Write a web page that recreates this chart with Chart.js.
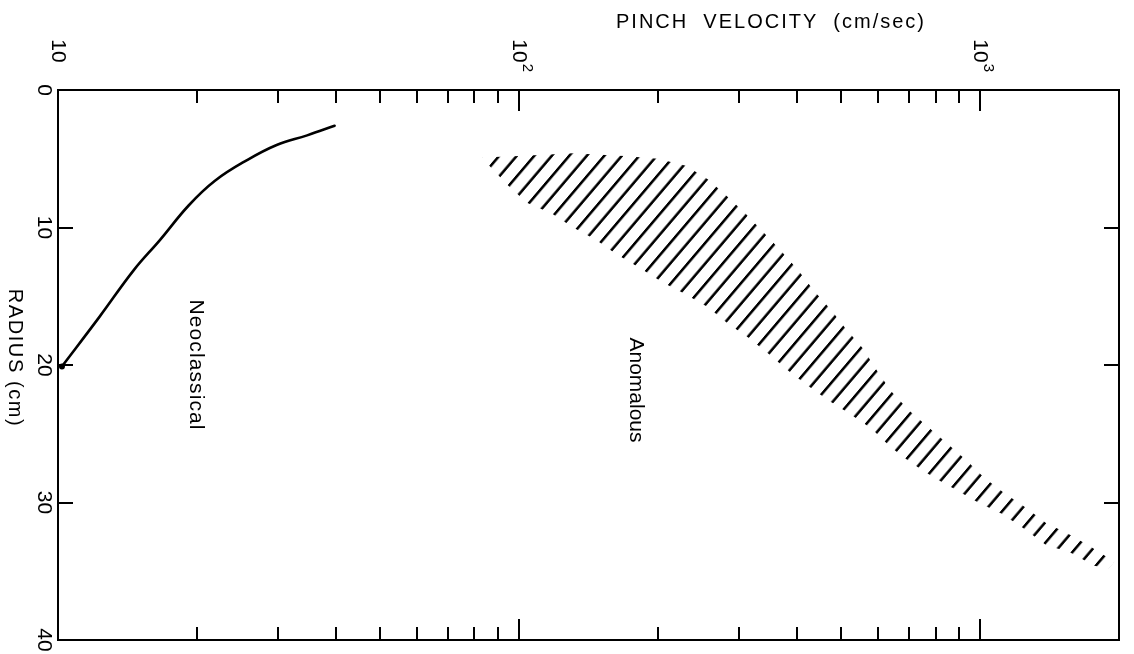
<!DOCTYPE html>
<html><head><meta charset="utf-8">
<script src="https://cdn.jsdelivr.net/npm/chart.js@4/dist/chart.umd.min.js"></script>
<style>html,body{margin:0;padding:0;background:#fff;}canvas{display:block;}</style>
</head><body>
<canvas id="c" width="1134" height="654"></canvas>
<script>
// ---- data ----
const velocityMinorTicks = [20,30,40,50,60,70,80,90,200,300,400,500,600,700,800,900];
const velocityMajorTicks = [100,1000];
const velocityLabelValues = [10,100,1000];
const velocityLabelExps = ['', '2', '3'];
const radiusTicks = [10,20,30];
const radiusLabels = [0,10,20,30,40];

const neoVelocity = [39.8, 34.7, 29.8, 25.7, 21.9, 19.2, 16.65, 14.6, 12.3, 10.2];
const neoRadius   = [2.6, 3.3, 4.0, 5.1, 6.6, 8.4, 10.9, 13.1, 16.5, 20.1];

const anomUpperVelocity = [83, 100, 131, 169, 200, 230, 257, 284, 310, 338, 370, 403, 436, 475, 512, 557, 589, 641, 701, 771, 848, 932, 1020, 1127, 1259, 1391, 1537, 1716, 1954];
const anomUpperRadius   = [4.9, 4.8, 4.6, 4.8, 5.0, 5.5, 6.5, 7.8, 9.0, 10.3, 11.7, 13.1, 14.6, 16.0, 17.4, 18.8, 20.1, 21.9, 23.3, 24.5, 25.7, 26.9, 28.2, 29.3, 30.4, 31.5, 32.2, 33.1, 34.3];
const anomLowerVelocity = [86.7, 94.4, 104, 118, 131, 147, 162, 182, 205, 228, 257, 284, 314, 348, 383, 423, 470, 519, 580, 641, 708, 795, 878, 990, 1111, 1246, 1391, 1561, 1768, 1897];
const anomLowerRadius   = [5.6, 6.9, 8.2, 9.0, 10.0, 10.9, 11.9, 12.9, 14.0, 14.8, 15.8, 17.0, 18.0, 19.2, 20.4, 21.5, 22.6, 23.5, 24.6, 26.0, 27.1, 28.2, 29.0, 30.0, 30.8, 31.9, 33.1, 33.6, 34.6, 34.8];

const xTitle = 'PINCH  VELOCITY  (cm/sec)';
const yTitle = 'RADIUS (cm)';
const neoLabel = 'Neoclassical';
const anomLabel = 'Anomalous';

// ---- build points ----
const neoPoints = neoVelocity.map((v,i)=>({x:v, y:neoRadius[i]}));
const bandPoints = anomUpperVelocity.map((v,i)=>({x:v, y:anomUpperRadius[i]}))
  .concat(anomLowerVelocity.map((v,i)=>({x:v, y:anomLowerRadius[i]})).reverse());

function makeHatch(){
  const t = document.createElement('canvas');
  t.width = 35; t.height = 4;
  const g = t.getContext('2d');
  g.fillStyle = '#000';
  g.fillRect(0,0,3.4,4); g.fillRect(17.5,0,3.4,4);
  const p = g.createPattern(t,'repeat');
  p.setTransform(new DOMMatrix([1,0,-0.85,1,0,0]));
  return p;
}

const FONT = '"Liberation Sans", Arial, sans-serif';

function rotText(ctx, text, cx, cy, size, len){
  ctx.save();
  ctx.translate(cx, cy);
  ctx.rotate(Math.PI/2);
  ctx.font = size + 'px ' + FONT;
  ctx.letterSpacing = '0px';
  if (len){
    const w = ctx.measureText(text).width;
    const sp = Math.max(0, (len - w) / Math.max(1, text.length - 1));
    ctx.letterSpacing = sp.toFixed(2) + 'px';
  }
  ctx.textAlign = 'center';
  ctx.textBaseline = 'middle';
  ctx.fillStyle = '#000';
  ctx.fillText(text, 0, 0);
  ctx.restore();
}

const decor = {
  id: 'decor',
  afterDraw(chart){
    const ctx = chart.ctx, a = chart.chartArea;
    const xs = chart.scales.x, ys = chart.scales.y;
    ctx.save();
    ctx.strokeStyle = '#000';
    ctx.lineWidth = 2;
    ctx.lineCap = 'butt';
    const seg = (x1,y1,x2,y2)=>{ctx.beginPath();ctx.moveTo(x1,y1);ctx.lineTo(x2,y2);ctx.stroke();};
    velocityMinorTicks.forEach(v=>{
      const px = Math.round(xs.getPixelForValue(v));
      seg(px, a.top, px, a.top+13);
      seg(px, a.bottom, px, a.bottom-13);
    });
    velocityMajorTicks.forEach(v=>{
      const px = Math.round(xs.getPixelForValue(v));
      seg(px, a.top, px, a.top+21);
      seg(px, a.bottom, px, a.bottom-21);
    });
    radiusTicks.forEach(r=>{
      const py = Math.round(ys.getPixelForValue(r));
      seg(a.left, py, a.left+15, py);
      seg(a.right, py, a.right-15, py);
    });
    radiusLabels.forEach(r=>{
      rotText(ctx, String(r), a.left-14, ys.getPixelForValue(r), 21);
    });
    velocityLabelValues.forEach((v,i)=>{
      const px = xs.getPixelForValue(v);
      ctx.save();
      ctx.translate(px, 51);
      ctx.rotate(Math.PI/2);
      ctx.fillStyle = '#000';
      ctx.font = '21px ' + FONT;
      ctx.textAlign = 'center';
      ctx.textBaseline = 'middle';
      ctx.fillText('10', 0, 0);
      const w = ctx.measureText('10').width;
      if (velocityLabelExps[i]){
        ctx.font = '15px ' + FONT;
        ctx.textAlign = 'left';
        ctx.fillText(velocityLabelExps[i], w/2 + 1, -8);
      }
      ctx.restore();
    });
    ctx.font = '20px ' + FONT;
    ctx.fillStyle = '#000';
    const tw = ctx.measureText(xTitle).width;
    ctx.letterSpacing = Math.max(0,(308 - tw)/(xTitle.length-1)).toFixed(2) + 'px';
    ctx.textAlign = 'center';
    ctx.textBaseline = 'middle';
    ctx.fillText(xTitle, 771, 22);
    ctx.letterSpacing = '0px';
    rotText(ctx, yTitle, 15, 358, 20, 137);
    rotText(ctx, neoLabel, 196, 365, 21, 130);
    rotText(ctx, anomLabel, 636, 390, 21, 105);
    ctx.restore();
  }
};

const axisBase = {
  ticks:{display:false},
  grid:{display:false, drawTicks:false},
  border:{display:true, color:'#000', width:2}
};

new Chart(document.getElementById('c').getContext('2d'), {
  type: 'line',
  data: {
    datasets: [
      {
        label: anomLabel,
        data: bandPoints,
        xAxisID: 'x', yAxisID: 'y',
        fill: 'shape',
        backgroundColor: makeHatch(),
        borderWidth: 0,
        borderColor: 'rgba(0,0,0,0)',
        pointRadius: 0,
        tension: 0
      },
      {
        label: neoLabel,
        data: neoPoints,
        xAxisID: 'x', yAxisID: 'y',
        fill: false,
        borderColor: '#000',
        borderWidth: 2.6,
        borderCapStyle: 'round',
        pointRadius: c => c.dataIndex === neoPoints.length-1 ? 3 : 0,
        pointBackgroundColor: '#000',
        pointBorderWidth: 0,
        tension: 0.4
      }
    ]
  },
  options: {
    responsive: false,
    animation: false,
    devicePixelRatio: 1,
    layout: {padding: {left: 58, top: 90, right: 15, bottom: 14}},
    plugins: {legend: {display: false}, tooltip: {enabled: false}, title: {display: false}},
    scales: {
      x: Object.assign({type:'logarithmic', position:'top', min:10, max:2000}, JSON.parse(JSON.stringify(axisBase))),
      x2: Object.assign({type:'logarithmic', position:'bottom', min:10, max:2000}, JSON.parse(JSON.stringify(axisBase))),
      y: Object.assign({type:'linear', position:'left', min:0, max:40, reverse:true}, JSON.parse(JSON.stringify(axisBase))),
      y2: Object.assign({type:'linear', position:'right', min:0, max:40, reverse:true}, JSON.parse(JSON.stringify(axisBase)))
    }
  },
  plugins: [decor]
});
</script>
</body></html>
